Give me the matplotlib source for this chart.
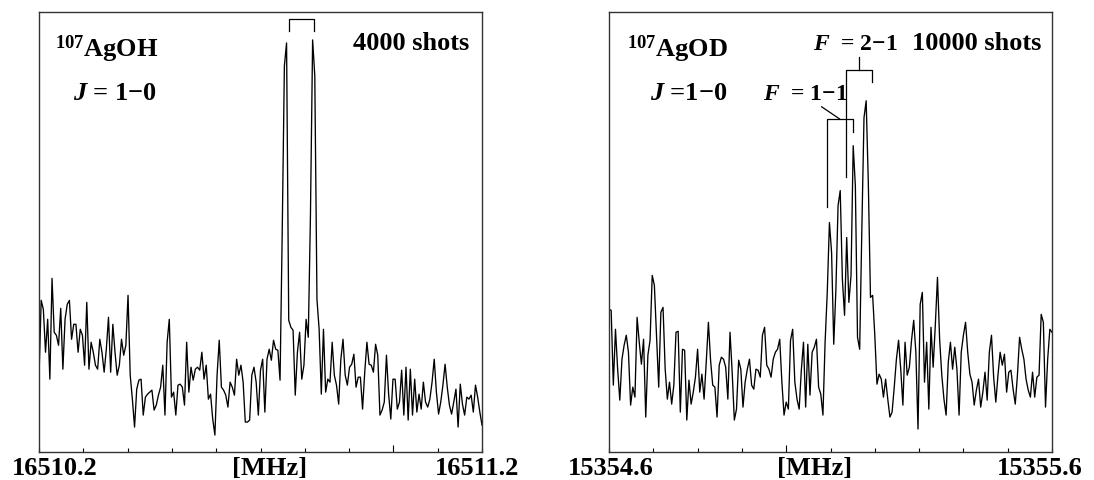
import numpy as np
import matplotlib
matplotlib.use("Agg")
import matplotlib.pyplot as plt
from matplotlib.ticker import MultipleLocator, FixedLocator, NullFormatter

plt.rcParams['font.family'] = ['Liberation Serif', 'DejaVu Serif']
plt.rcParams['font.weight'] = 'bold'
plt.rcParams['mathtext.fontset'] = 'custom'
plt.rcParams['mathtext.rm'] = 'Liberation Serif:bold'
plt.rcParams['mathtext.it'] = 'Liberation Serif:italic:bold'
plt.rcParams['mathtext.bf'] = 'Liberation Serif:bold'

# 107AgOH, J = 1-0, 4000 shots (intensity, arbitrary units)
agoh_start, agoh_end = 16510.2, 16511.2
agoh_signal = [
    75, 152, 143, 100, 133, 73, 174, 120, 117, 107, 144, 83, 133, 148, 152, 113,
    128, 128, 100, 123, 117, 87, 150, 83, 110, 100, 87, 83, 113, 100, 80, 103,
    135, 80, 128, 100, 77, 87, 113, 97, 107, 157, 77, 53, 25, 63, 72, 73,
    37, 55, 58, 60, 62, 42, 47, 57, 65, 87, 37, 110, 133, 55, 60, 37,
    67, 68, 65, 47, 110, 60, 85, 72, 83, 85, 82, 100, 73, 87, 53, 58,
    33, 17, 77, 112, 65, 62, 57, 45, 70, 65, 57, 93, 77, 87, 70, 30,
    30, 32, 77, 85, 70, 37, 82, 93, 40, 93, 103, 92, 112, 103, 102, 72,
    220, 387, 410, 132, 125, 122, 57, 100, 120, 73, 87, 133, 115, 237, 413, 377,
    153, 123, 58, 123, 60, 73, 70, 110, 77, 67, 48, 93, 113, 77, 67, 85,
    88, 98, 65, 75, 75, 43, 80, 110, 88, 87, 80, 108, 97, 37, 42, 50,
    97, 58, 33, 73, 73, 43, 50, 82, 37, 85, 32, 83, 37, 73, 40, 58,
    43, 70, 50, 45, 53, 70, 93, 60, 38, 50, 67, 88, 65, 47, 38, 50,
    63, 25, 68, 48, 37, 55, 53, 57, 40, 67, 55, 40, 27,
]
agoh_lines = [16510.764, 16510.820]

# 107AgOD, J = 1-0, 10000 shots
agod_start, agod_end = 15354.6, 15355.6
agod_signal = [
    143, 142, 67, 123, 83, 52, 93, 107, 117, 100, 47, 65, 55, 135, 110, 88,
    113, 35, 97, 112, 177, 167, 117, 65, 140, 145, 83, 53, 70, 48, 67, 120,
    121, 40, 103, 102, 32, 72, 48, 60, 75, 103, 60, 78, 53, 90, 130, 92,
    67, 65, 35, 87, 95, 93, 85, 53, 120, 80, 32, 43, 92, 83, 45, 70,
    83, 93, 67, 63, 83, 82, 75, 117, 125, 87, 83, 75, 93, 100, 103, 113,
    70, 37, 50, 43, 112, 123, 70, 53, 43, 82, 110, 45, 108, 57, 100, 105,
    113, 65, 58, 37, 110, 160, 230, 200, 108, 163, 247, 262, 173, 137, 215, 150,
    177, 307, 267, 115, 103, 223, 335, 352, 270, 155, 157, 117, 68, 78, 73, 55,
    73, 53, 35, 40, 65, 93, 112, 83, 47, 110, 77, 85, 112, 132, 100, 23,
    148, 160, 70, 110, 43, 125, 85, 127, 175, 113, 77, 53, 37, 90, 110, 83,
    105, 83, 37, 100, 117, 130, 100, 78, 70, 47, 62, 73, 45, 60, 80, 52,
    100, 117, 75, 50, 77, 100, 87, 98, 60, 80, 82, 63, 48, 77, 115, 103,
    93, 73, 62, 55, 80, 55, 75, 77, 138, 130, 45, 93, 123, 120,
]
agod_f11 = [15355.093, 15355.150]
agod_f21 = [15355.135, 15355.193]

fig = plt.figure(figsize=(10.94, 4.81), dpi=100)
ax1 = fig.add_axes([39 / 1094, 28 / 481, 443 / 1094, 440 / 481])
ax2 = fig.add_axes([609 / 1094, 28 / 481, 443 / 1094, 440 / 481])

fs = 19


def setup(ax, start, end, signal, labels, mhz_x):
    x = np.linspace(start, end, len(signal))
    ax.plot(x, signal, color='black', lw=0.95)
    ax.set_xlim(start, end)
    ax.set_ylim(0, 441)
    ax.set_yticks([])
    ax.xaxis.set_major_locator(FixedLocator([np.floor(start) + 1]))
    ax.xaxis.set_minor_locator(MultipleLocator(0.1))
    ax.xaxis.set_major_formatter(NullFormatter())
    ax.tick_params(axis='x', which='major', direction='in', length=5, width=0.8)
    ax.tick_params(axis='x', which='minor', direction='in', length=3, width=0.8)
    for sp in ax.spines.values():
        sp.set_linewidth(1.0)
        sp.set_color('#333333')
    kw = dict(transform=ax.transAxes, fontsize=fs, fontweight='bold',
              ha='center', va='center')
    ax.text(labels[0], -0.035, f"{start:.1f}", **kw)
    ax.text(mhz_x, -0.035, "[MHz]", **kw)
    ax.text(labels[1], -0.035, f"{end:.1f}", **kw)


setup(ax1, agoh_start, agoh_end, agoh_signal, (0.036, 0.989), 0.521)
setup(ax2, agod_start, agod_end, agod_signal, (0.005, 0.973), 0.465)

# left panel annotations
ax1.text(0.036, 0.9, r"$^{107}$AgOH", transform=ax1.transAxes, fontsize=fs,
         fontweight='bold', va='baseline', ha='left')
ax1.text(0.077, 0.802, r"$J$ = 1−0", transform=ax1.transAxes, fontsize=fs,
         fontweight='bold', va='baseline', ha='left')
ax1.text(0.971, 0.916, "4000 shots", transform=ax1.transAxes, fontsize=fs,
         fontweight='bold', va='baseline', ha='right')
ax1.plot([agoh_lines[0], agoh_lines[0], agoh_lines[1], agoh_lines[1]],
         [422, 434, 434, 422], color='black', lw=0.9)

# right panel annotations
ax2.text(0.041, 0.9, r"$^{107}$AgOD", transform=ax2.transAxes, fontsize=fs,
         fontweight='bold', va='baseline', ha='left')
ax2.text(0.093, 0.802, r"$J$ =1−0", transform=ax2.transAxes, fontsize=fs,
         fontweight='bold', va='baseline', ha='left')
ax2.text(0.348, 0.802, r"$F$  = 1−1", transform=ax2.transAxes, fontsize=17,
         fontweight='bold', va='baseline', ha='left')
ax2.text(0.461, 0.916, r"$F$  = 2−1", transform=ax2.transAxes, fontsize=17,
         fontweight='bold', va='baseline', ha='left')
ax2.text(0.977, 0.916, "10000 shots", transform=ax2.transAxes, fontsize=fs,
         fontweight='bold', va='baseline', ha='right')
ax2.plot([agod_f11[0], agod_f11[0], agod_f11[1], agod_f11[1]],
         [246, 334, 334, 321], color='black', lw=0.9)
ax2.plot([15355.080, 15355.120], [346, 334], color='black', lw=0.9)
ax2.plot([agod_f21[0], agod_f21[0], agod_f21[1], agod_f21[1]],
         [276, 383, 383, 371], color='black', lw=0.9)
mid21 = (agod_f21[0] + agod_f21[1]) / 2
ax2.plot([mid21, mid21], [383, 396], color='black', lw=0.9)

fig.savefig("out.png", dpi=100)
